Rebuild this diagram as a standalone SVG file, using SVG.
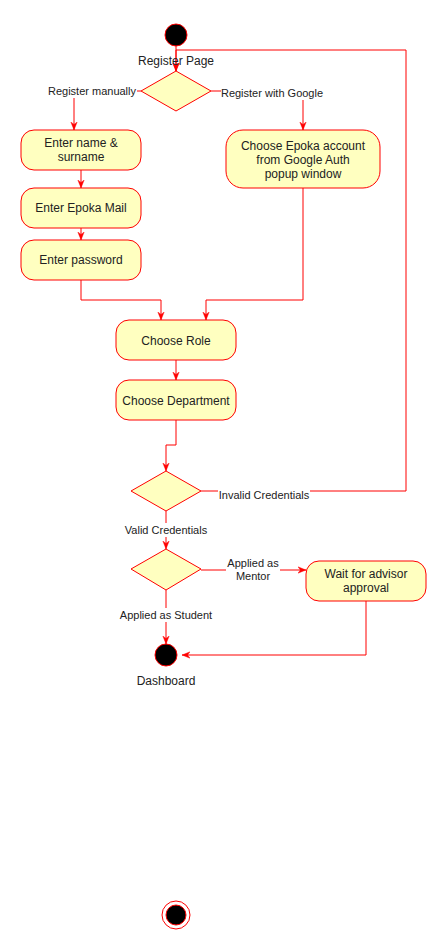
<svg xmlns="http://www.w3.org/2000/svg" width="447" height="951" viewBox="0 0 447 951">
<style>
.act{fill:#ffffc0;stroke:#ff0000;stroke-width:1}
.dec{fill:#ffffc0;stroke:#ff0000;stroke-width:1}
.edge{fill:none;stroke:#ff0000;stroke-width:1}
.arr{marker-end:url(#arrow)}
.t{font-family:"Liberation Sans",Arial,sans-serif;font-size:12px;fill:#222;text-anchor:middle}
.lbl{font-family:"Liberation Sans",Arial,sans-serif;font-size:11px;fill:#222;text-anchor:middle}
.bg{fill:#ffffff}
</style>
<defs>
<marker id="arrow" viewBox="0 0 10 10" refX="10" refY="5" markerWidth="8" markerHeight="8" orient="auto" markerUnits="userSpaceOnUse">
<path d="M0,1 L10,5 L0,9 L3,5 z" fill="#ff0000" stroke="#ff0000" stroke-width="0.5"/>
</marker>
</defs>
<rect width="447" height="951" fill="#ffffff"/>

<g id="connectors">
<path class="edge arr" d="M176,46 L176,71"/>
<path class="edge arr" d="M201,491 L406,491 L406,50 L176,50 L176,71"/>
<path class="edge arr" d="M141,91 L74,91 L74,130"/>
<path class="edge arr" d="M211,91 L303,91 L303,130"/>
<path class="edge arr" d="M81,170 L81,188"/>
<path class="edge arr" d="M81,228 L81,240"/>
<path class="edge arr" d="M81,280 L81,300 L161,300 L161,320"/>
<path class="edge arr" d="M303,188 L303,300 L206,300 L206,320"/>
<path class="edge arr" d="M176,360 L176,380"/>
<path class="edge arr" d="M176,420 L176,445 L166,445 L166,471"/>
<path class="edge arr" d="M166,511 L166,549"/>
<path class="edge arr" d="M201,570 L306,570"/>
<path class="edge arr" d="M366,601 L366,655 L182,655"/>
<path class="edge arr" d="M166,590 L166,644"/>

<rect class="bg" x="48" y="84" width="89" height="14"/>
<text class="lbl" x="92" y="95">Register manually</text>
<rect class="bg" x="221" y="86" width="103" height="14"/>
<text class="lbl" x="272" y="97">Register with Google</text>
<rect class="bg" x="218" y="488" width="92" height="14"/>
<text class="lbl" x="264" y="499">Invalid Credentials</text>
<rect class="bg" x="124" y="523" width="84" height="14"/>
<text class="lbl" x="166" y="534">Valid Credentials</text>
<rect class="bg" x="226" y="557" width="54" height="26"/>
<text class="lbl" x="253" y="567">Applied as</text>
<text class="lbl" x="253" y="580">Mentor</text>
<rect class="bg" x="119" y="608" width="95" height="14"/>
<text class="lbl" x="166" y="619">Applied as Student</text>
</g>

<g id="start">
<circle cx="176" cy="35" r="11" fill="#000000" stroke="#ff0000" stroke-width="1"/>
<text class="t" x="176" y="65">Register Page</text>
</g>

<g id="decision-register">
<polygon class="dec" points="176,71 211,91 176,111 141,91"/>
</g>

<g id="enter-name">
<rect class="act" x="21" y="130" width="120" height="40" rx="13" ry="13"/>
<text class="t" x="81" y="147">Enter name &amp;</text>
<text class="t" x="81" y="161">surname</text>
</g>

<g id="google-account">
<rect class="act" x="226" y="130" width="154" height="58" rx="17" ry="17"/>
<text class="t" x="303" y="150">Choose Epoka account</text>
<text class="t" x="303" y="164">from Google Auth</text>
<text class="t" x="303" y="178">popup window</text>
</g>

<g id="enter-mail">
<rect class="act" x="21" y="188" width="120" height="40" rx="13" ry="13"/>
<text class="t" x="81" y="212">Enter Epoka Mail</text>
</g>

<g id="enter-password">
<rect class="act" x="21" y="240" width="120" height="40" rx="13" ry="13"/>
<text class="t" x="81" y="264">Enter password</text>
</g>

<g id="choose-role">
<rect class="act" x="116" y="320" width="120" height="40" rx="13" ry="13"/>
<text class="t" x="176" y="345">Choose Role</text>
</g>

<g id="choose-department">
<rect class="act" x="116" y="380" width="120" height="40" rx="13" ry="13"/>
<text class="t" x="176" y="405">Choose Department</text>
</g>

<g id="decision-credentials">
<polygon class="dec" points="166,471 201,491 166,511 131,491"/>
</g>

<g id="decision-role">
<polygon class="dec" points="166,549 201,569 166,590 131,569"/>
</g>

<g id="wait-approval">
<rect class="act" x="306" y="561" width="120" height="40" rx="13" ry="13"/>
<text class="t" x="366" y="578">Wait for advisor</text>
<text class="t" x="366" y="592">approval</text>
</g>

<g id="dashboard">
<circle cx="166" cy="655" r="11" fill="#000000" stroke="#ff0000" stroke-width="1"/>
<text class="t" x="166" y="685">Dashboard</text>
</g>

<g id="end">
<circle cx="176" cy="915" r="14" fill="none" stroke="#ff0000" stroke-width="1"/>
<circle cx="176" cy="915" r="10" fill="#000000" stroke="#ff0000" stroke-width="1"/>
</g>
</svg>
